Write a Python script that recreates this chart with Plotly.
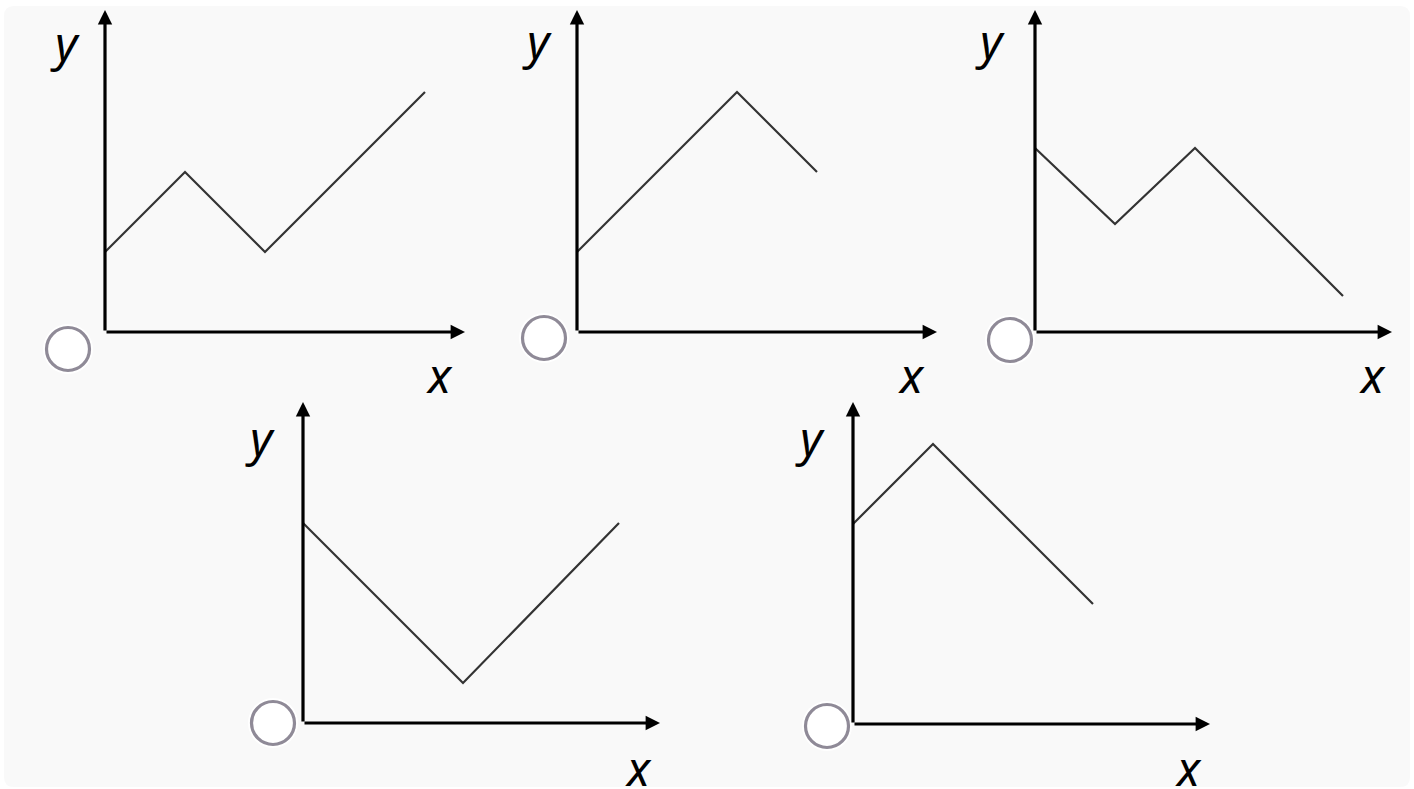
import plotly.graph_objects as go

W, H = 1414, 789
UNIT = 80  # px per data unit

# ---- data: one polyline per small graph ------------------------------------
p1_x = [0, 1, 2, 4]
p1_y = [1, 2, 1, 3]
p2_x = [0, 2, 3]
p2_y = [1, 3, 2]
p3_x = [0, 1, 2, 3.85]
p3_y = [2.3, 1.35, 2.3, 0.45]
p4_x = [0, 2, 3.95]
p4_y = [2.5, 0.5, 2.5]
p5_x = [0, 1, 3]
p5_y = [2.5, 3.5, 1.5]

series = [(p1_x, p1_y), (p2_x, p2_y), (p3_x, p3_y), (p4_x, p4_y), (p5_x, p5_y)]

# ---- layout of the panels (pixels) ------------------------------------------
# origin px, x-arrow tip px, y-arrow tip px, radio centre, y label, x label
PANELS = [
    dict(o=(105, 332), xt=465, yt=10, radio=(68, 349), ylab=(65, 42), xlab=(440, 375)),
    dict(o=(577, 332), xt=937, yt=10, radio=(544, 338), ylab=(537, 40), xlab=(912, 375)),
    dict(o=(1035, 332), xt=1392, yt=10, radio=(1010, 340), ylab=(990, 40), xlab=(1372, 375)),
    dict(o=(303, 723), xt=660, yt=402, radio=(273, 723), ylab=(260, 437), xlab=(638, 767)),
    dict(o=(853, 724), xt=1210, yt=402, radio=(827, 726), ylab=(810, 437), xlab=(1188, 767)),
]

INK = "#000000"
LINE = "#333333"
RADIO = "#8f8a97"
BG = "#f9f9f9"
FONT = "Noto Sans, Open Sans, sans-serif"


def px(x):
    return x / W


def py(y):
    return 1 - y / H


fig = go.Figure()
shapes = []
annotations = []

# rounded light-grey card behind everything
x0, y0, x1, y1, r = px(4), py(6), px(1410), py(787), 10
rx, ry = r / W, r / H
shapes.append(dict(
    type="path", xref="paper", yref="paper", layer="below",
    path=(f"M{x0 + rx},{y0} L{x1 - rx},{y0} Q{x1},{y0} {x1},{y0 - ry} "
          f"L{x1},{y1 + ry} Q{x1},{y1} {x1 - rx},{y1} L{x0 + rx},{y1} "
          f"Q{x0},{y1} {x0},{y1 + ry} L{x0},{y0 - ry} Q{x0},{y0} {x0 + rx},{y0} Z"),
    fillcolor=BG, line=dict(width=0)))

for i, (p, (xs, ys)) in enumerate(zip(PANELS, series), start=1):
    ox, oy = p["o"]
    xmax = (p["xt"] - ox) / UNIT
    ymax = (oy - p["yt"]) / UNIT
    xa = "xaxis" if i == 1 else f"xaxis{i}"
    ya = "yaxis" if i == 1 else f"yaxis{i}"
    xr = "x" if i == 1 else f"x{i}"
    yr = "y" if i == 1 else f"y{i}"
    fig.update_layout({
        xa: dict(domain=[px(ox), px(p["xt"])], range=[0, xmax], visible=False,
                 anchor=yr, fixedrange=True),
        ya: dict(domain=[py(oy), py(p["yt"])], range=[0, ymax], visible=False,
                 anchor=xr, fixedrange=True),
    })
    fig.add_trace(go.Scatter(x=xs, y=ys, mode="lines", xaxis=xr, yaxis=yr,
                             line=dict(color=LINE, width=2.2), showlegend=False,
                             hoverinfo="skip", cliponaxis=False))

    # axis arrows
    for tx, ty in ((xmax, 0), (0, ymax)):
        annotations.append(dict(
            x=tx, y=ty, ax=0, ay=0, xref=xr, yref=yr, axref=xr, ayref=yr,
            text="", showarrow=True, arrowhead=2, arrowsize=0.9,
            arrowwidth=3.2, arrowcolor=INK, standoff=0, startstandoff=0))

    # axis letters
    for lab, (lx, ly) in (("y", p["ylab"]), ("x", p["xlab"])):
        annotations.append(dict(
            x=px(lx), y=py(ly), xref="paper", yref="paper", text=f"<i>{lab}</i>",
            showarrow=False, xanchor="center", yanchor="middle",
            font=dict(family=FONT, size=48, color=INK)))

    # radio button
    cx, cy = p["radio"]
    shapes.append(dict(type="circle", xref="paper", yref="paper",
                       x0=px(cx - 25), x1=px(cx + 25), y0=py(cy + 25), y1=py(cy - 25),
                       fillcolor="#ffffff", line=dict(width=0)))
    shapes.append(dict(type="circle", xref="paper", yref="paper",
                       x0=px(cx - 21.5), x1=px(cx + 21.5), y0=py(cy + 21.5), y1=py(cy - 21.5),
                       fillcolor="#ffffff", line=dict(color=RADIO, width=3.2)))

fig.update_layout(
    width=W, height=H,
    margin=dict(l=0, r=0, t=0, b=0),
    paper_bgcolor="#ffffff", plot_bgcolor="rgba(0,0,0,0)",
    shapes=shapes, annotations=annotations,
    showlegend=False,
)

# the page body has an 8px default margin; drop it so the figure sits at 0,0
fig.write_html("out.html", config={"displayModeBar": False},
               post_script="document.body.style.margin='0';")
